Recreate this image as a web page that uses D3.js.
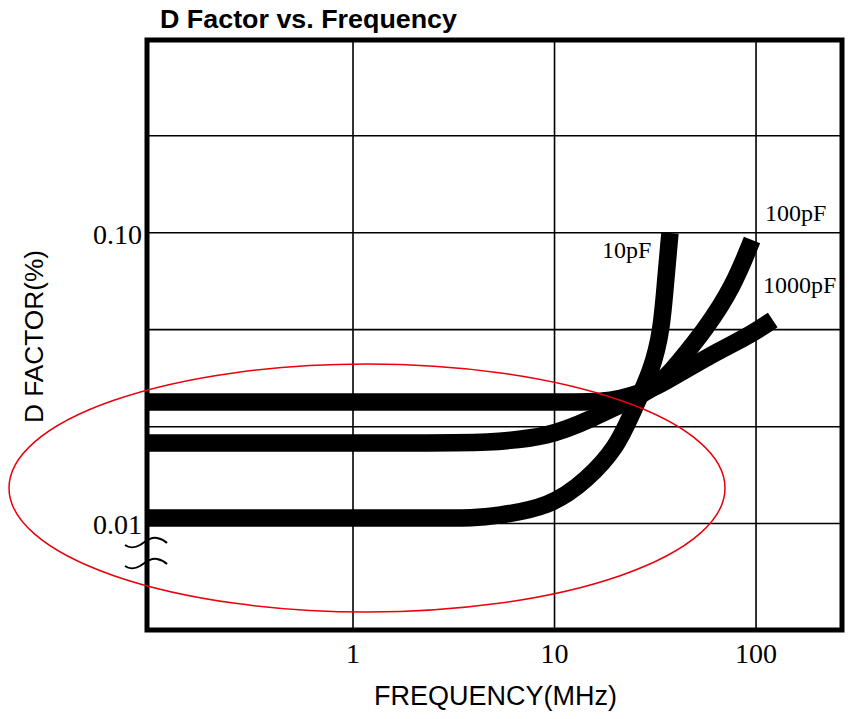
<!DOCTYPE html>
<html>
<head>
<meta charset="utf-8">
<script src="https://cdn.jsdelivr.net/npm/d3@7"></script>
<style>
  html, body { margin: 0; padding: 0; background: #fff; }
  svg { display: block; }
</style>
</head>
<body>
<svg id="chart" width="849" height="719"></svg>
<script>
// Dissipation factor (%) against frequency (MHz) for three capacitances
const freq10pF    = [0.095, 2.5, 4.0, 5.07, 9.50, 14.5, 20.4, 24.2, 30.5, 34.0, 35.6, 37.4];
const dFactor10pF = [0.01044, 0.01044, 0.01044, 0.0106, 0.01138, 0.0141, 0.01831, 0.02398, 0.03371, 0.04627, 0.0688, 0.0998];

const freq100pF    = [0.095, 2.5, 4.5, 9.50, 15.5, 21.1, 32.6, 41.0, 55.8, 76.9, 95.5];
const dFactor100pF = [0.0189, 0.0189, 0.0189, 0.01982, 0.02305, 0.02554, 0.02945, 0.03562, 0.04627, 0.0650, 0.0944];

const freq1000pF    = [0.095, 8.0, 13.0, 17.0, 21.1, 27.5, 33.4, 59.2, 90.2, 121];
const dFactor1000pF = [0.02616, 0.02616, 0.02616, 0.02625, 0.02679, 0.0283, 0.02992, 0.03795, 0.04376, 0.05007];

const seriesNames = ["10pF", "100pF", "1000pF"];

// Axis ticks
const xTickValues = [1, 10, 100];
const xTickLabels = ["1", "10", "100"];
const yGridValues = [0.2154, 0.1, 0.0464, 0.0215, 0.01];
const yLabelValues = [0.1, 0.01];
const yTickLabels = ["0.10", "0.01"];

// Plot frame
const plot = { left: 147, right: 842, top: 40, bottom: 630 };

const svg = d3.select("#chart");

const x = d3.scaleLog().domain([0.095, 267]).range([plot.left, plot.right]);
const y = d3.scaleLog().domain([0.0043, 0.46]).range([plot.bottom, plot.top]);

svg.append("rect").attr("width", 849).attr("height", 719).attr("fill", "#fff");

svg.append("defs").append("clipPath").attr("id", "plotClip")
  .append("rect")
  .attr("x", plot.left).attr("y", plot.top)
  .attr("width", plot.right - plot.left).attr("height", plot.bottom - plot.top);

// Grid
const grid = svg.append("g").attr("stroke", "#000").attr("stroke-width", 1.6);
grid.selectAll("line.v").data(xTickValues).join("line")
  .attr("class", "v")
  .attr("x1", d => x(d)).attr("x2", d => x(d))
  .attr("y1", plot.top).attr("y2", plot.bottom);
grid.selectAll("line.h").data(yGridValues).join("line")
  .attr("class", "h")
  .attr("x1", plot.left).attr("x2", plot.right)
  .attr("y1", d => y(d)).attr("y2", d => y(d));

// Curves (B-spline through the measured points for smooth arcs)
const line = d3.line()
  .x(d => x(d[0]))
  .y(d => y(d[1]))
  .curve(d3.curveBasis);

const series = [
  d3.zip(freq10pF, dFactor10pF),
  d3.zip(freq100pF, dFactor100pF),
  d3.zip(freq1000pF, dFactor1000pF)
];

svg.append("g").attr("clip-path", "url(#plotClip)")
  .selectAll("path").data(series).join("path")
  .attr("d", line)
  .attr("fill", "none")
  .attr("stroke", "#000")
  .attr("stroke-width", 17.5)
  .attr("stroke-linecap", "butt")
  .attr("stroke-linejoin", "round");

// Frame
svg.append("rect")
  .attr("x", plot.left).attr("y", plot.top)
  .attr("width", plot.right - plot.left).attr("height", plot.bottom - plot.top)
  .attr("fill", "none").attr("stroke", "#000").attr("stroke-width", 5);

// Axis break marks on the left axis
const breakMark = "M125,545 C129,548 135,548 140,545 C146,541 151,537 157,538 C162,539 165,541 167,543";
[0, 21].forEach(dy => {
  svg.append("path")
    .attr("d", breakMark)
    .attr("transform", `translate(0,${dy})`)
    .attr("fill", "none").attr("stroke", "#000").attr("stroke-width", 2);
});

// Tick labels
const serif = "'Liberation Serif', 'DejaVu Serif', serif";
const sans = "'Liberation Sans', Arial, Helvetica, sans-serif";

svg.append("g").selectAll("text").data(xTickValues).join("text")
  .attr("x", d => x(d)).attr("y", 663)
  .attr("text-anchor", "middle")
  .attr("font-family", serif).attr("font-size", 28)
  .text((d, i) => xTickLabels[i]);

svg.append("g").selectAll("text").data(yLabelValues).join("text")
  .attr("x", 142).attr("y", d => y(d) + 11)
  .attr("text-anchor", "end")
  .attr("font-family", serif).attr("font-size", 28)
  .text((d, i) => yTickLabels[i]);

// Curve labels
const curveLabels = [
  { name: seriesNames[0], x: 602, y: 258 },
  { name: seriesNames[1], x: 765, y: 221 },
  { name: seriesNames[2], x: 763, y: 293 }
];
svg.append("g").selectAll("text").data(curveLabels).join("text")
  .attr("x", d => d.x).attr("y", d => d.y)
  .attr("font-family", serif).attr("font-size", 24)
  .text(d => d.name);

// Title and axis titles
svg.append("text")
  .attr("x", 160).attr("y", 28)
  .attr("font-family", sans).attr("font-weight", "bold").attr("font-size", 26)
  .attr("textLength", 297).attr("lengthAdjust", "spacingAndGlyphs")
  .text("D Factor vs. Frequency");

svg.append("text")
  .attr("x", 374).attr("y", 705)
  .attr("font-family", sans).attr("font-size", 27)
  .attr("textLength", 243).attr("lengthAdjust", "spacingAndGlyphs")
  .text("FREQUENCY(MHz)");

svg.append("text")
  .attr("transform", "translate(43,423) rotate(-90)")
  .attr("font-family", sans).attr("font-size", 25)
  .attr("textLength", 173).attr("lengthAdjust", "spacingAndGlyphs")
  .text("D FACTOR(%)");

// Highlight ellipse around the low-frequency plateau
svg.append("ellipse")
  .attr("cx", 367).attr("cy", 488).attr("rx", 358).attr("ry", 124)
  .attr("fill", "none").attr("stroke", "#e8000b").attr("stroke-width", 1.5);
</script>
</body>
</html>
